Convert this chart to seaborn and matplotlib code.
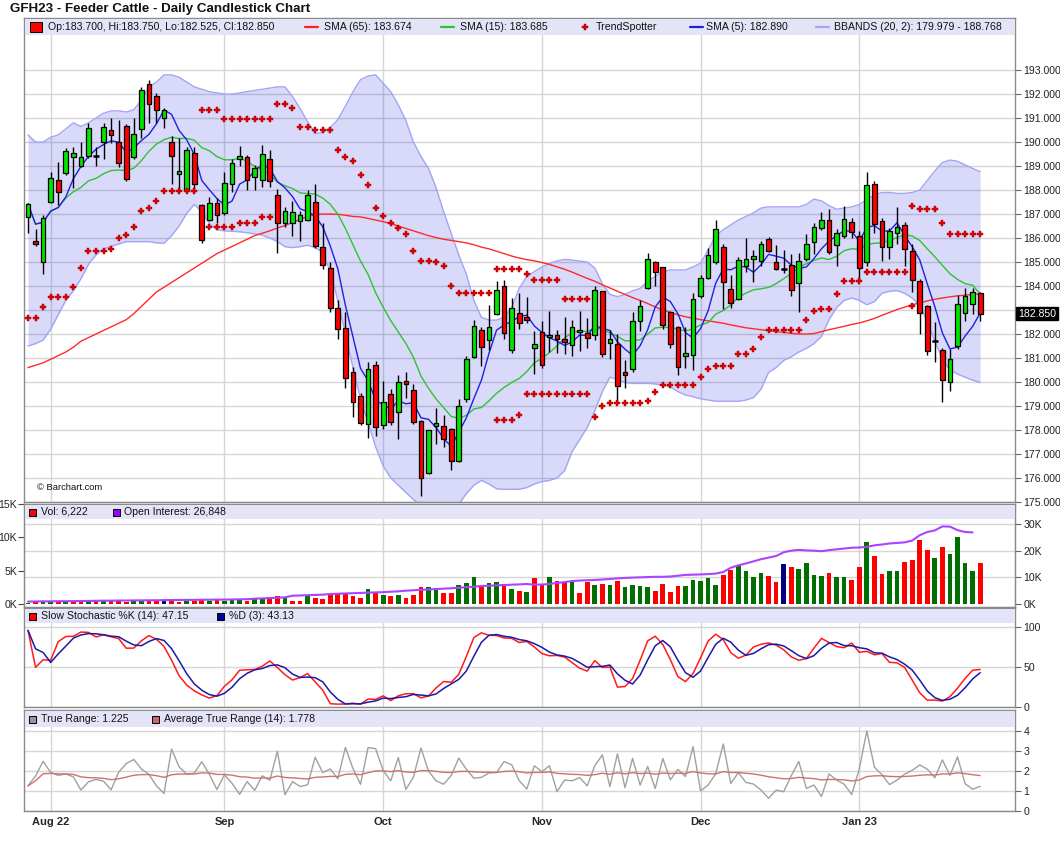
import numpy as np
import pandas as pd
import seaborn as sns
import matplotlib.pyplot as plt
from matplotlib import font_manager
from matplotlib.patches import Rectangle
from matplotlib.lines import Line2D

N = np.nan

# GFH23 daily bars, 27 Jul 2022 .. 26 Jan 2023
opens = [186.86, 185.88, 184.99, 187.49, 188.40, 188.69, 189.36, 188.99, 189.40, 189.40,
         189.99, 190.49, 189.99, 190.69, 189.36, 190.53, 192.44, 191.94, 190.99, 189.99,
         188.65, 187.99, 189.53, 187.36, 186.74, 187.47, 187.06, 188.25, 189.28, 189.36,
         188.53, 188.40, 189.28, 187.78, 186.61, 186.61, 186.69, 186.74, 187.49, 185.61,
         184.74, 183.07, 182.26, 180.43, 179.40, 178.25, 180.70, 178.21, 179.49, 178.74,
         180.03, 179.65, 178.36, 176.19, 178.15, 178.15, 178.03, 176.69, 179.28, 181.03,
         182.15, 181.74, 182.82, 183.99, 181.32, 182.86, 182.69, 181.40, 182.07, 181.86,
         181.94, 181.78, 181.53, 182.07, 182.03, 181.94, 183.78, 181.61, 181.57, 180.40,
         180.53, 182.53, 183.90, 184.99, 184.78, 182.90, 182.28, 181.07, 181.11, 183.57,
         184.32, 184.99, 185.61, 183.86, 183.44, 184.82, 185.11, 185.03, 185.94, 184.99,
         184.69, 184.86, 184.11, 185.11, 185.82, 186.40, 186.74, 185.69, 186.07, 186.68,
         186.10, 185.01, 188.27, 186.71, 185.64, 186.22, 186.56, 185.47, 184.22, 183.17,
         181.71, 181.33, 179.99, 181.50, 182.88, 183.25, 183.70]
highs = [187.47, 186.36, 186.96, 188.74, 189.15, 189.74, 189.80, 189.99, 190.80, 189.78,
         190.78, 190.99, 190.90, 190.75, 191.00, 192.28, 192.60, 192.03, 191.44, 190.24,
         190.19, 189.78, 189.78, 187.40, 187.72, 187.68, 188.75, 189.28, 189.83, 189.46,
         189.03, 189.87, 189.65, 188.06, 187.28, 187.54, 187.11, 188.00, 188.24, 186.61,
         184.99, 183.40, 182.90, 180.64, 179.53, 180.83, 180.87, 180.04, 179.71, 180.29,
         180.42, 179.92, 178.40, 178.00, 178.90, 178.61, 178.08, 179.28, 181.07, 182.57,
         182.30, 183.21, 184.19, 184.24, 183.49, 183.70, 183.53, 182.11, 182.53, 182.94,
         182.15, 182.69, 182.57, 182.94, 182.65, 183.99, 183.80, 182.15, 181.99, 180.90,
         182.90, 183.40, 185.36, 185.03, 184.80, 182.95, 182.35, 182.28, 183.70, 184.44,
         185.57, 186.75, 185.74, 184.44, 185.19, 185.99, 185.49, 185.86, 186.03, 185.69,
         185.49, 185.32, 185.36, 186.15, 186.61, 187.07, 187.19, 186.36, 187.32, 186.82,
         186.29, 188.74, 188.39, 186.85, 186.43, 187.30, 186.67, 185.76, 184.29, 183.20,
         182.50, 181.40, 181.38, 183.64, 183.90, 183.90, 183.75]
lows = [186.22, 185.68, 184.49, 187.45, 187.38, 188.63, 188.10, 188.95, 189.35, 189.00,
        189.30, 189.94, 188.97, 188.39, 189.30, 190.19, 190.78, 190.78, 190.57, 188.24,
        188.00, 187.95, 187.90, 185.80, 186.70, 186.61, 186.95, 187.90, 189.00, 188.00,
        188.00, 188.12, 188.12, 185.39, 186.47, 186.08, 185.89, 186.70, 185.57, 184.70,
        182.90, 181.80, 179.74, 178.53, 178.20, 177.68, 177.77, 178.03, 178.21, 177.63,
        179.35, 178.24, 175.27, 176.15, 177.40, 177.28, 176.32, 176.65, 179.15, 181.00,
        180.65, 181.32, 182.80, 181.78, 181.19, 182.19, 182.45, 180.32, 180.58, 181.24,
        181.19, 181.15, 181.07, 181.28, 181.40, 181.74, 181.03, 180.94, 179.15, 179.74,
        180.40, 182.11, 183.88, 183.99, 182.19, 181.40, 180.28, 180.57, 180.50, 183.50,
        184.28, 184.90, 183.03, 183.07, 183.40, 184.57, 184.15, 184.82, 185.40, 184.65,
        184.53, 183.57, 182.90, 185.05, 185.32, 186.35, 185.35, 184.82, 185.99, 186.00,
        184.20, 184.82, 186.21, 185.04, 185.12, 185.76, 184.84, 183.74, 182.00, 181.12,
        180.85, 179.17, 179.61, 181.37, 182.54, 182.82, 182.525]
closes = [187.42, 185.74, 186.82, 188.49, 187.90, 189.61, 189.53, 189.39, 190.57, 189.40,
          190.61, 190.28, 189.11, 188.44, 190.32, 192.15, 191.58, 191.32, 191.32, 189.40,
          188.78, 189.65, 188.25, 185.90, 187.47, 186.96, 188.28, 189.11, 189.40, 188.40,
          188.90, 189.49, 188.36, 186.61, 187.11, 187.07, 186.94, 187.78, 185.68, 184.88,
          183.07, 182.19, 180.15, 179.15, 178.28, 180.53, 178.11, 179.15, 178.32, 179.99,
          179.90, 178.32, 176.02, 177.99, 178.28, 177.61, 176.69, 178.99, 180.94, 182.32,
          181.44, 182.28, 183.82, 182.03, 183.07, 182.44, 182.57, 181.57, 180.69, 181.94,
          181.78, 181.65, 182.28, 182.15, 181.82, 183.82, 181.15, 181.78, 179.82, 180.28,
          182.53, 183.15, 185.11, 184.57, 182.36, 181.57, 180.61, 181.19, 183.44, 184.32,
          185.28, 186.36, 184.15, 183.28, 185.07, 185.11, 185.24, 185.74, 185.44, 184.69,
          184.69, 183.82, 185.03, 185.74, 186.44, 186.74, 185.40, 186.19, 186.78, 186.25,
          184.76, 188.23, 186.57, 185.64, 186.29, 186.46, 185.56, 184.26, 182.88, 181.29,
          181.71, 180.07, 180.95, 183.24, 183.59, 183.74, 182.85]
volume = [150, 350, 350, 250, 250, 250, 250, 400, 400, 400,
          400, 400, 400, 250, 400, 500, 400, 400, 400, 650,
          250, 400, 400, 600, 400, 600, 400, 650, 550, 400,
          700, 800, 1000, 1150, 900, 400, 400, 1300, 850, 700,
          1450, 1550, 1650, 1250, 950, 2300, 1750, 1400, 1250, 1400,
          950, 1400, 2600, 2600, 2400, 1700, 1700, 2900, 3200, 4100,
          2600, 3200, 3350, 3000, 2300, 2000, 1850, 3950, 2800, 4100,
          3500, 3250, 3350, 1700, 3350, 2900, 3050, 2900, 3500, 2600,
          2900, 2750, 2600, 2000, 3050, 1850, 2750, 2750, 3650, 3500,
          3950, 2900, 4400, 5150, 5650, 5000, 4100, 4700, 4250, 3350,
          6050, 5600, 5300, 6200, 4400, 4250, 4700, 4100, 4100, 3650,
          5600, 9350, 7250, 4550, 5000, 5000, 6350, 6650, 9650, 8150,
          6950, 8600, 7550, 10100, 6200, 5000, 6222]
open_interest = [900, 950, 1000, 1000, 1050, 1050, 1100, 1100, 1150, 1200,
                 1250, 1250, 1300, 1300, 1350, 1350, 1400, 1400, 1450, 1500,
                 1500, 1550, 1550, 1600, 1600, 1650, 1650, 1700, 1750, 1800,
                 2000, 2100, 2200, 2350, 2500, 3100, 3200, 3300, 3400, 3500,
                 3750, 3850, 3950, 4050, 4150, 4250, 4350, 4450, 4600, 4750,
                 5000, 5150, 5300, 5450, 5600, 5750, 5900, 6100, 6300, 6500,
                 6750, 6850, 7000, 7100, 7250, 7350, 7500, 7250, 7300, 7500,
                 7900, 8200, 8600, 8800, 8900, 9000, 9200, 9400, 9600, 9800,
                 9900, 10000, 10100, 10200, 10200, 10300, 10600, 10900, 11000, 11100,
                 11200, 11400, 12000, 13600, 14500, 15200, 16000, 16800, 17400, 18000,
                 19400, 20000, 20300, 20100, 20000, 19800, 20200, 20500, 20800, 21100,
                 21200, 21400, 22000, 22300, 22700, 22900, 23100, 23800, 25800, 27000,
                 27600, 29100, 29000, 27700, 27000, 26848, N]
sma65 = [180.6, 180.7, 180.8, 180.95, 181.1, 181.25, 181.45, 181.7, 181.85, 182.0,
         182.15, 182.3, 182.45, 182.6, 182.85, 183.15, 183.45, 183.75, 183.95, 184.15,
         184.35, 184.55, 184.75, 184.95, 185.15, 185.35, 185.5, 185.65, 185.8, 185.95,
         186.1, 186.2, 186.3, 186.42, 186.52, 186.65, 186.78, 186.9, 186.98, 187.0,
         187.0, 186.99, 186.95, 186.9, 186.88, 186.82, 186.75, 186.68, 186.6, 186.5,
         186.4, 186.3, 186.2, 186.1, 186.02, 185.95, 185.9, 185.85, 185.8, 185.72,
         185.62, 185.55, 185.45, 185.35, 185.25, 185.17, 185.1, 185.05, 184.98, 184.9,
         184.8, 184.7, 184.58, 184.45, 184.32, 184.2, 184.05, 183.92, 183.78, 183.65,
         183.52, 183.4, 183.27, 183.13, 183.0, 182.9, 182.8, 182.72, 182.66, 182.6,
         182.55, 182.5, 182.45, 182.38, 182.32, 182.26, 182.22, 182.18, 182.14, 182.1,
         182.07, 182.03, 182.0, 182.0, 182.02, 182.1, 182.18, 182.25, 182.32, 182.4,
         182.46, 182.55, 182.65, 182.78, 182.9, 183.02, 183.12, 183.22, 183.3, 183.38,
         183.45, 183.5, 183.55, 183.59, 183.62, 183.65, 183.674]
bb_upper = [190.3, 190.0, 190.0, 190.2, 190.3, 190.55, 190.8, 190.65, 190.8, 191.0,
            191.2, 191.3, 191.3, 191.25, 191.35, 191.75, 192.3, 192.5, 192.8, 192.8,
            192.7, 192.5, 192.3, 192.2, 192.1, 192.05, 192.0, 192.0, 192.05, 192.1,
            192.15, 192.2, 192.25, 192.3, 192.3, 191.9, 191.4, 190.85, 190.36, 190.4,
            190.6, 190.94, 191.5, 192.1, 192.6, 192.75, 192.8, 192.45, 192.1, 191.55,
            190.9, 190.0, 189.4, 188.9, 188.1, 187.1, 186.2, 185.3, 184.5, 183.4,
            182.7, 182.58, 182.58, 182.7, 183.1, 183.9, 184.4, 184.6, 184.8, 184.94,
            185.05, 185.11, 185.08, 185.04, 185.0, 184.75, 184.1, 183.65, 183.56, 183.65,
            183.8, 183.9, 184.2, 184.4, 184.6, 184.67, 184.67, 184.67, 184.8, 184.95,
            185.5, 186.1, 186.35, 186.55, 186.75, 186.9, 187.05, 187.25, 187.3, 187.3,
            187.3, 187.3, 187.3, 187.4, 187.62, 187.55, 187.35, 187.2, 187.25, 187.3,
            187.4, 187.6, 187.8, 187.9, 187.9, 187.86, 187.86, 187.9, 188.0, 188.4,
            188.8, 189.15, 189.25, 189.2, 189.05, 188.9, 188.768]
bb_lower = [181.5, 181.6, 181.75, 182.2, 182.8, 183.4, 183.8, 184.3, 184.9, 185.3,
            185.55, 185.65, 185.75, 185.85, 185.85, 185.85, 185.85, 185.8, 185.78, 186.1,
            186.5, 187.03, 187.4, 187.1, 186.6, 186.35, 186.3, 186.28, 186.26, 186.22,
            186.18, 186.12, 186.0, 185.85, 185.64, 185.6, 185.64, 185.7, 185.6, 185.4,
            184.6, 183.4, 182.0, 180.6, 179.3, 178.3, 177.3, 176.5, 176.0, 175.7,
            175.4, 175.1, 174.85, 174.7, 174.6, 174.6, 174.7, 174.9, 175.35, 175.7,
            175.9, 175.75, 175.55, 175.53, 175.53, 175.53, 175.6, 175.75, 175.85, 175.9,
            176.0, 176.3, 177.1, 177.6, 178.1, 178.8, 179.6, 180.2, 180.1, 179.98,
            179.94, 179.94, 179.94, 179.92, 179.86, 179.8, 179.6, 179.46, 179.39, 179.3,
            179.25, 179.2, 179.2, 179.2, 179.2, 179.25, 179.35, 179.7, 180.4, 180.6,
            180.9, 181.05, 181.25, 181.4, 181.6, 181.9, 182.6, 183.1, 183.4, 183.5,
            183.4, 183.22, 183.35, 183.7, 183.78, 183.81, 183.7, 183.5, 183.2, 182.5,
            181.7, 180.95, 180.5, 180.33, 180.2, 180.08, 179.979]
ts_upper = [N] * 23 + [191.32] * 3 + [190.96] * 7 + [191.57] * 2 + [191.40] + [190.61] * 2 + \
           [190.49] * 3 + [189.66, 189.36, 189.20, 188.61, 188.19, 187.24, 186.92, 186.61,
                           186.40, 186.17, 185.44, 185.03, 185.03, 184.99, 184.82, 183.99] + \
           [183.69] * 5 + [184.69] * 4 + [184.49] + [184.24] * 4 + [183.44] * 4 + [N] * 42 + \
           [187.33] + [187.22] * 3 + [186.64] + [186.18] * 5
ts_lower = [182.65, 182.65, 183.11, 183.53, 183.53, 183.53, 183.97, 184.74, 185.44, 185.44,
            185.44, 185.53, 185.99, 186.11, 186.44, 187.11, 187.24, 187.53] + [187.94] * 5 + \
           [N] + [186.44] * 4 + [186.61] * 3 + [186.86] * 2 + [N] * 29 + [178.42] * 3 + \
           [178.62] + [179.49] * 9 + [178.53, 179.0] + [179.13] * 5 + [179.21, 179.58] + \
           [179.875] * 5 + [180.2, 180.53] + [180.65] * 3 + [181.17] * 2 + [181.36, 181.86] + \
           [182.15] * 5 + [182.57, 182.94, 183.03, 183.03, 183.65] + [184.19] * 3 + \
           [184.59] * 6 + [183.17] + [N] * 9

holidays = ['2022-09-05', '2022-11-24', '2022-12-26', '2023-01-02', '2023-01-16']
month_labels = ['Aug 22', 'Sep', 'Oct', 'Nov', 'Dec', 'Jan 23']

sns.set_style('white')
names = {f.name for f in font_manager.fontManager.ttflist}
FONT = 'Liberation Sans Narrow' if 'Liberation Sans Narrow' in names else 'Liberation Sans'
k = 1.0 if FONT.endswith('Narrow') else 0.84
plt.rcParams['font.family'] = [FONT, 'DejaVu Sans']

dates = pd.bdate_range('2022-07-27', '2023-01-26')
dates = dates[~dates.isin(pd.to_datetime(holidays))]
df = pd.DataFrame({'open': opens, 'high': highs, 'low': lows, 'close': closes,
                   'vol': volume, 'oi': open_interest, 'sma65': sma65,
                   'bbu': bb_upper, 'bbl': bb_lower,
                   'ts_up': ts_upper, 'ts_lo': ts_lower}, index=dates)
df['i'] = np.arange(len(df))
x = df['i'].values

firsts = df.groupby(df.index.to_period('M'))['i'].min().values[1:]

# indicators
c = df['close']
df['sma5'] = c.rolling(5, min_periods=1).mean()
df['sma15'] = c.rolling(15, min_periods=1).mean()
hh = df['high'].rolling(14, min_periods=1).max()
ll = df['low'].rolling(14, min_periods=1).min()
fast = 100 * (c - ll) / (hh - ll)
df['k'] = fast.rolling(3, min_periods=1).mean()
df['d'] = df['k'].rolling(3, min_periods=1).mean()
prev = c.shift()
df['tr'] = pd.concat([df.high - df.low, (df.high - prev).abs(), (df.low - prev).abs()],
                     axis=1).max(axis=1)
df['atr'] = df['tr'].ewm(alpha=1 / 14, adjust=True).mean()

# layout (pixels)
W, H = 1060, 851
L, R = 24, 1015
step = 7.557
GRID = '#d6d6d6'
LAV = '#e4e4f8'
FRAME = '#8a8a8a'

fig = plt.figure(figsize=(W / 100, H / 100), dpi=100)


def panel(top, bottom):
    ax = fig.add_axes([L / W, 1 - bottom / H, (R - L) / W, (bottom - top) / H])
    ax.set_xlim(-(28 - L) / step, (R - 28) / step)
    for s in ax.spines.values():
        s.set_color(FRAME)
        s.set_linewidth(1)
    ax.set_xticks(firsts)
    ax.tick_params(axis='x', length=0, labelbottom=False)
    ax.grid(axis='x', color=GRID, lw=1)
    ax.set_axisbelow(True)
    return ax


def strip(top, height, items, sq=(7, 7)):
    fig.add_artist(Rectangle((L / W + 1 / W, 1 - (top + height) / H), (R - L - 2) / W, (height - 1) / H,
                             transform=fig.transFigure, color=LAV, lw=0, zorder=5))
    yc = top + height / 2 + 0.5
    for kind, mx, color, tx, text in items:
        if kind == 'box':
            fig.add_artist(Rectangle((mx / W, 1 - (yc + sq[1] / 2) / H), sq[0] / W, sq[1] / H,
                                     transform=fig.transFigure, facecolor=color,
                                     edgecolor='black', lw=0.7, zorder=6))
        elif kind == 'line':
            fig.add_artist(Line2D([mx / W, (mx + 13) / W], [1 - yc / H] * 2,
                                  transform=fig.transFigure, color=color, lw=1.6, zorder=6))
        else:
            fig.add_artist(Line2D([mx / W], [1 - yc / H], transform=fig.transFigure,
                                  marker='P', ms=4, color=color, mec='#a00000', mew=0.3,
                                  ls='none', zorder=6))
        fig.text(tx / W, 1 - yc / H, text, fontsize=9 * k, va='center', ha='left',
                 color='#111111', zorder=7)


# ---- price panel ----
ax = panel(18, 502)
ax.set_ylim(175.0, 195.17)
ticks = np.arange(175, 194)
ax.set_yticks(ticks)
ax.yaxis.tick_right()
last = df.close.iloc[-1]
# the last-price tag covers the nearest price label, as on the original
ax.set_yticklabels(['' if abs(t - last) < 0.5 else f'{t:.3f}' for t in ticks])
ax.tick_params(axis='y', length=4, color='#666666', labelsize=9 * k, pad=2, labelcolor='#222222')
ax.grid(axis='y', color=GRID, lw=1)

ax.fill_between(x, df['bbl'], df['bbu'], color='#0000e0', alpha=0.15, lw=0, zorder=1)
for col in ['bbu', 'bbl']:
    sns.lineplot(x=x, y=df[col].values, ax=ax, color='#a4a4f4', lw=1, zorder=2, legend=False)
sns.lineplot(x=x, y=df['sma65'].values, ax=ax, color='#ff2a2a', lw=1, zorder=2, legend=False)
sns.lineplot(x=x, y=df['sma15'].values, ax=ax, color='#2ec42e', lw=1, zorder=2, legend=False)
sns.lineplot(x=x, y=df['sma5'].values, ax=ax, color='#2020e0', lw=1, zorder=2, legend=False)

body_col = np.where(df.close > df.open, '#00e600', '#ff0000')
ax.vlines(x, df.low, df.high, color='black', lw=1, zorder=3)
ax.bar(x, (df.close - df.open).abs(), bottom=np.minimum(df.open, df.close), width=0.62,
       color=body_col, edgecolor='black', lw=0.9, zorder=4)
doji = df.close == df.open
ax.hlines(df.close[doji], x[doji] - 0.38, x[doji] + 0.38, color='black', lw=1.8, zorder=4)
for col in ['ts_up', 'ts_lo']:
    ax.scatter(x, df[col], marker='P', s=13, color='#e00000', edgecolors='#a00000',
               linewidths=0.3, zorder=5)
fig.text(37 / W, 1 - 488 / H, '\u00a9 Barchart.com', fontsize=8 * k, va='center', color='#111111')

# last price tag
fig.text(1018 / W, 1 - (70 + (193 - last) * 24) / H, f'{last:.3f}',
         fontsize=9 * k, color='white', va='center', ha='left',
         bbox=dict(boxstyle='square,pad=0.15', fc='black', ec='black'))

strip(18, 17, [('box', 30, '#ff0000', 48, 'Op:183.700, Hi:183.750, Lo:182.525, Cl:182.850'),
               ('line', 305, '#ff2020', 324, 'SMA (65): 183.674'),
               ('line', 441, '#22cc22', 460, 'SMA (15): 183.685'),
               ('dot', 585, '#dd0000', 596, 'TrendSpotter'),
               ('line', 690, '#2222dd', 706, 'SMA (5): 182.890'),
               ('line', 816, '#a4a4f4', 834, 'BBANDS (20, 2): 179.979 - 188.768')], sq=(12, 10))

# ---- volume / open interest ----
axv = panel(504, 607)
axv.set_ylim(-450, 15000)
for g in [4000, 8000, 12000]:
    axv.axhline(g, color=GRID, lw=1, zorder=0)
vol_col = np.where(c.diff() > 0, '#006e00', np.where(c.diff() < 0, '#ff0000', '#000080'))
vol_col[0] = '#006e00'
axv.bar(x, df['vol'], width=0.62, color=vol_col, lw=0, zorder=2)
axv.set_yticks([0, 5000, 10000, 15000], ['0K', '5K', '10K', '15K'])
axv.tick_params(axis='y', length=4, color='#444444', labelsize=9 * k, pad=1, labelcolor='#222222')
axo = axv.twinx()
axo.set_ylim(-1125, 37500)
axo.set_xlim(axv.get_xlim())
sns.lineplot(x=x, y=df['oi'].values, ax=axo, color='#aa44ff', lw=1.5, legend=False)
axo.set_yticks([0, 10000, 20000, 30000], ['0K', '10K', '20K', '30K'])
axo.tick_params(axis='y', length=4, color='#666666', labelsize=9 * k, pad=2, labelcolor='#222222')
for s in axo.spines.values():
    s.set_color(FRAME)
strip(504, 15, [('box', 29, '#ff0000', 41, 'Vol: 6,222'),
                ('box', 113, '#9900ff', 124, 'Open Interest: 26,848')])

# ---- slow stochastic ----
axs = panel(608, 707)
axs.set_ylim(0, 124)
axs.set_yticks([0, 50, 100])
axs.yaxis.tick_right()
axs.tick_params(axis='y', length=4, color='#666666', labelsize=9 * k, pad=2, labelcolor='#222222')
axs.grid(axis='y', color=GRID, lw=1)
sns.lineplot(x=x, y=df['k'].values, ax=axs, color='#ff1a1a', lw=1.1, legend=False)
sns.lineplot(x=x, y=df['d'].values, ax=axs, color='#1a1aa8', lw=1.1, legend=False)
strip(608, 15, [('box', 29, '#ff0000', 41, 'Slow Stochastic %K (14): 47.15'),
                ('box', 217, '#000099', 229, '%D (3): 43.13')])

# ---- true range ----
axt = panel(710, 811)
axt.set_ylim(0, 5.02)
axt.set_yticks([0, 1, 2, 3, 4])
axt.yaxis.tick_right()
axt.tick_params(axis='y', length=4, color='#666666', labelsize=9 * k, pad=2, labelcolor='#222222')
axt.grid(axis='y', color=GRID, lw=1)
sns.lineplot(x=x, y=df['tr'].values, ax=axt, color='#a0a0a0', lw=1, legend=False)
sns.lineplot(x=x, y=df['atr'].values, ax=axt, color='#d07070', lw=1, legend=False)
axt.set_xticks(firsts, month_labels)
axt.tick_params(axis='x', labelbottom=True, labelsize=9.5 * k, pad=4)
for t in axt.get_xticklabels():
    t.set_fontweight('bold')
strip(710, 17, [('box', 29, '#999999', 41, 'True Range: 1.225'),
                ('box', 152, '#cc6666', 164, 'Average True Range (14): 1.778')])

for a in [ax, axv, axo, axs, axt]:
    a.set_xlabel('')
    a.set_ylabel('')

fig.text(10 / W, 1 - 9 / H, 'GFH23 - Feeder Cattle - Daily Candlestick Chart',
         fontsize=11.5 * k, fontweight='bold', va='center', color='#111111')

fig.savefig('out.png', dpi=100, facecolor='white')
